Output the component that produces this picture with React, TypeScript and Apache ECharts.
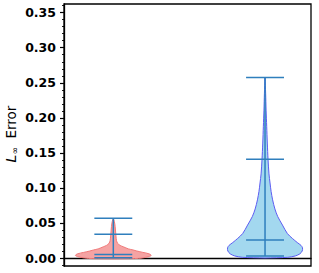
import React, { useEffect, useRef } from "react";
import * as echarts from "echarts";

// violin positions on the x axis
const positions = [1, 2];

// red violin profile: y value and half width (x units)
const redY = [-0.0012, -0.0008, 0.0, 0.002, 0.0038, 0.006, 0.008, 0.01, 0.0115, 0.013, 0.016, 0.018, 0.021, 0.025, 0.03, 0.035, 0.045, 0.052, 0.0567];
const redW = [0, 0.14, 0.19, 0.235, 0.25, 0.235, 0.195, 0.155, 0.13, 0.1, 0.066, 0.045, 0.028, 0.021, 0.018, 0.016, 0.012, 0.007, 0];

// blue violin profile
const blueY = [0.0, 0.001, 0.003, 0.006, 0.01, 0.0145, 0.018, 0.022, 0.028, 0.035, 0.047, 0.059, 0.07, 0.083, 0.095, 0.107, 0.12, 0.14, 0.164, 0.188, 0.211, 0.235, 0.2576];
const blueW = [0, 0.15, 0.2, 0.23, 0.245, 0.247, 0.237, 0.213, 0.18, 0.147, 0.115, 0.084, 0.065, 0.05, 0.04, 0.033, 0.026, 0.02, 0.015, 0.011, 0.007, 0.004, 0];

// horizontal stat lines (min, median, mean, max)
const redStats = [0.0005, 0.005, 0.034, 0.0567];
const blueStats = [0.0029, 0.0257, 0.141, 0.2576];

// y ticks
const majorTicks = [0, 0.05, 0.1, 0.15, 0.2, 0.25, 0.3, 0.35];
const minorTicks = [-0.01, 0.01, 0.02, 0.03, 0.04, 0.06, 0.07, 0.08, 0.09, 0.11, 0.12, 0.13, 0.14, 0.16, 0.17, 0.18, 0.19, 0.21, 0.22, 0.23, 0.24, 0.26, 0.27, 0.28, 0.29, 0.31, 0.32, 0.33, 0.34, 0.36];

const profiles = [
  { y: redY, w: redW, fill: "#f5a3a3", stroke: "#f07a7a" },
  { y: blueY, w: blueW, fill: "#a3d8ef", stroke: "#5c5cf2" },
];
const stats = [redStats, blueStats];

const Y_MIN = -0.0114;
const Y_MAX = 0.3624;
const CAP = 0.125;
const STAT_COLOR = "#2f7fbd";

export default function App() {
  const ref = useRef<HTMLDivElement>(null);
  useEffect(() => {
    if (!ref.current) return;
    const chart = echarts.init(ref.current, null, { renderer: "svg" });
    const yBase = {
      type: "value",
      min: Y_MIN,
      max: Y_MAX,
      splitLine: { show: false },
    };
    chart.setOption({
      animation: false,
      graphic: [
        {
          type: "text",
          x: 19.5,
          y: 134,
          rotation: Math.PI / 2,
          style: {
            text: "{l|L}{s|∞}{e|  Error}",
            align: "center",
            verticalAlign: "bottom",
            fill: "#000",
            fontFamily: "DejaVu Sans",
            fontSize: 13.5,
            rich: {
              l: { fontFamily: "DejaVu Sans", fontStyle: "italic", fontSize: 14, fill: "#000", lineHeight: 18, verticalAlign: "middle" },
              s: { fontFamily: "DejaVu Sans", fontSize: 9, fill: "#000", lineHeight: 18, verticalAlign: "bottom" },
              e: { fontFamily: "DejaVu Sans", fontSize: 13.5, fill: "#000", lineHeight: 18, verticalAlign: "middle" },
            },
          },
        },
      ],
      grid: {
        left: 64,
        right: 8,
        top: 4,
        bottom: 7,
        show: true,
        borderColor: "#000",
        borderWidth: 1.3,
        backgroundColor: "transparent",
      },
      xAxis: {
        type: "value",
        min: 0.675,
        max: 2.303,
        axisLine: { show: true, lineStyle: { color: "#000", width: 1.3 } },
        axisTick: { show: false },
        axisLabel: { show: false },
        splitLine: { show: false },
      },
      yAxis: [
        {
          ...yBase,
          axisLine: { show: true, lineStyle: { color: "#000", width: 1.3 } },
          axisTick: { show: true, length: 4, lineStyle: { color: "#000", width: 1.2 }, customValues: majorTicks },
          axisLabel: {
            show: true,
            customValues: majorTicks,
            margin: 8,
            color: "#000",
            fontFamily: "DejaVu Sans",
            fontWeight: "bold",
            fontSize: 12.5,
            formatter: (v: number) => v.toFixed(2),
          },
        },
        {
          ...yBase,
          position: "left",
          axisLine: { show: false },
          axisTick: { show: true, length: 2, lineStyle: { color: "#000", width: 0.9 }, customValues: minorTicks },
          axisLabel: { show: false },
        },
      ],
      series: [
        {
          type: "custom",
          name: "violins",
          data: positions.map((p, i) => [p, i]),
          renderItem: (params: any, api: any) => {
            const pos = api.value(0);
            const idx = api.value(1);
            const pr = profiles[idx];
            const left: number[][] = [];
            const right: number[][] = [];
            for (let k = 0; k < pr.y.length; k++) {
              right.push(api.coord([pos + pr.w[k], pr.y[k]]));
              left.push(api.coord([pos - pr.w[k], pr.y[k]]));
            }
            const pts = right.concat(left.reverse());
            return {
              type: "polygon",
              shape: { points: pts, smooth: 0.3 },
              style: { fill: pr.fill, stroke: pr.stroke, lineWidth: 1 },
            };
          },
        },
        {
          type: "custom",
          name: "stats",
          data: positions.map((p, i) => [p, i]),
          renderItem: (params: any, api: any) => {
            const pos = api.value(0);
            const idx = api.value(1);
            const s = stats[idx];
            const children: any[] = [];
            const lo = api.coord([pos, Math.min(...s)]);
            const hi = api.coord([pos, Math.max(...s)]);
            children.push({
              type: "line",
              shape: { x1: lo[0], y1: lo[1], x2: hi[0], y2: hi[1] },
              style: { stroke: STAT_COLOR, lineWidth: 1.5 },
            });
            s.forEach((v) => {
              const a = api.coord([pos - CAP, v]);
              const b = api.coord([pos + CAP, v]);
              children.push({
                type: "line",
                shape: { x1: a[0], y1: a[1], x2: b[0], y2: b[1] },
                style: { stroke: STAT_COLOR, lineWidth: 1.5 },
              });
            });
            return { type: "group", children };
          },
        },
      ],
    });
    return () => chart.dispose();
  }, []);
  return <div ref={ref} style={{ width: 319, height: 273, position: "absolute", left: 0, top: 0 }} />;
}
